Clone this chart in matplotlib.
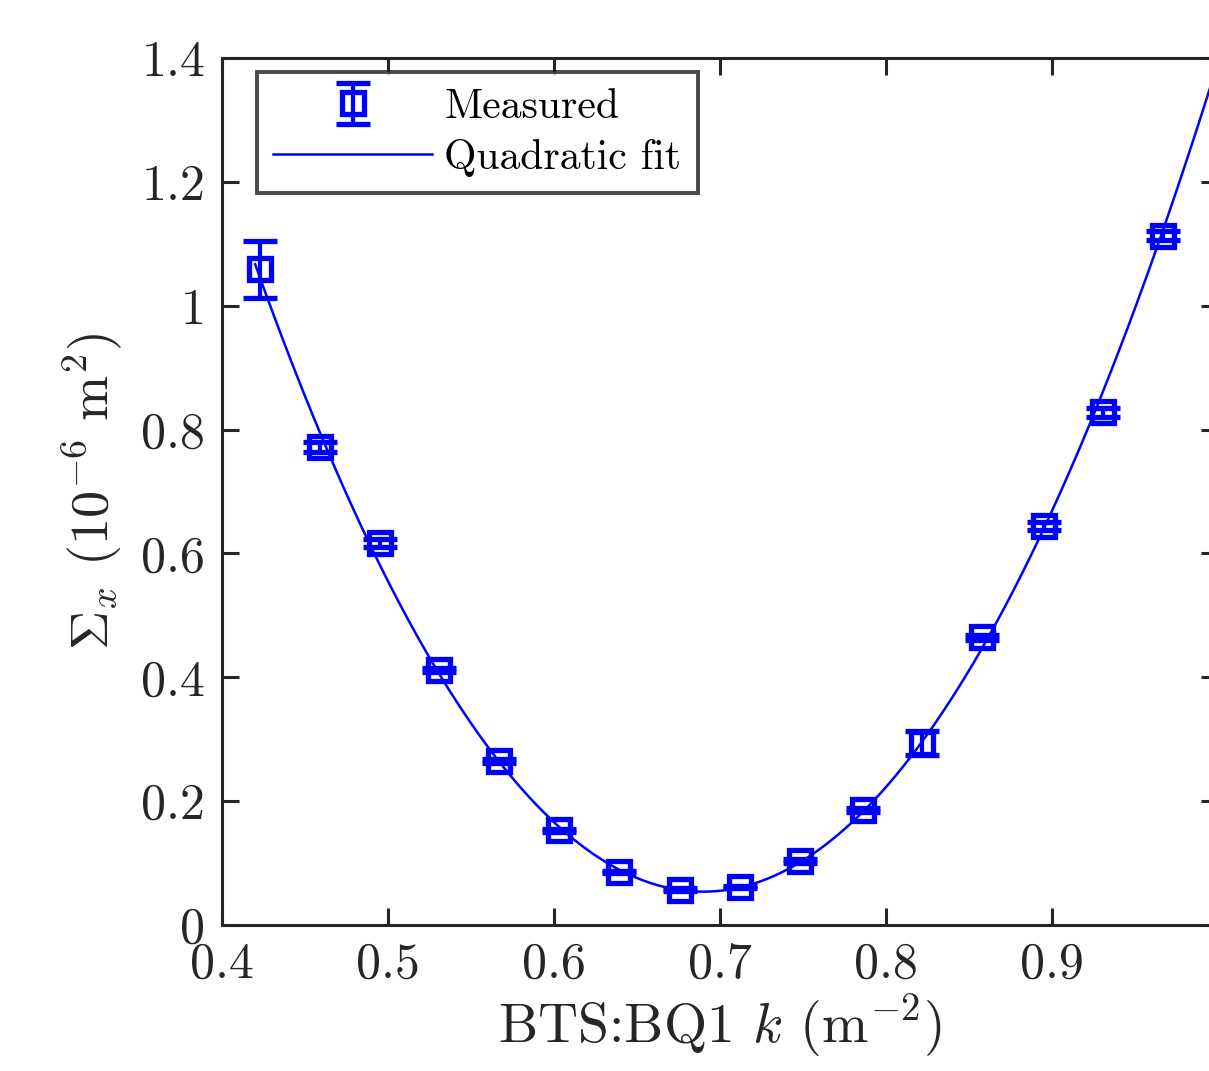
import numpy as np
import matplotlib
matplotlib.use("Agg")
import matplotlib.pyplot as plt
from matplotlib.ticker import FuncFormatter

plt.rcParams['font.family'] = 'cmr10'
plt.rcParams['mathtext.fontset'] = 'cm'
plt.rcParams['axes.formatter.use_mathtext'] = True

# quad strength k (m^-2) and measured Sigma_x (1e-6 m^2)
k_values = [0.423, 0.459, 0.495, 0.531, 0.567, 0.603, 0.639, 0.676,
            0.712, 0.748, 0.786, 0.822, 0.858, 0.895, 0.931, 0.967]
sigma_x = [1.059, 0.772, 0.617, 0.412, 0.265, 0.153, 0.086, 0.057,
           0.061, 0.103, 0.186, 0.294, 0.465, 0.644, 0.828, 1.113]
sigma_err = [0.046, 0.008, 0.007, 0.003, 0.003, 0.002, 0.002, 0.002,
             0.002, 0.003, 0.003, 0.019, 0.004, 0.006, 0.007, 0.007]

k = np.array(k_values)
s = np.array(sigma_x)
e = np.array(sigma_err)

coef = np.polyfit(k, s, 2, w=1 / e)
k_fit = np.linspace(0.42, 1.0, 300)
s_fit = np.polyval(coef, k_fit)

fig = plt.figure(figsize=(12.09, 10.71), dpi=100)
ax = fig.add_axes([0.1836, 0.1363, 0.8238, 0.8095])

h_meas = ax.errorbar(k, s, yerr=e, fmt='s', color='#0000ff', mfc='none',
                     ms=16.5, mew=3.8, elinewidth=3, capsize=12, capthick=3.2,
                     label='Measured', zorder=3)
h_fit, = ax.plot(k_fit, s_fit, color='#0000ff', lw=1.8, label='Quadratic fit')

ax.set_xlim(0.4, 1.0)
ax.set_ylim(0, 1.4)
ax.set_xticks([0.4, 0.5, 0.6, 0.7, 0.8, 0.9])
ax.set_yticks([0, 0.2, 0.4, 0.6, 0.8, 1.0, 1.2, 1.4])
fmt = FuncFormatter(lambda v, p: f"{v:g}")
ax.xaxis.set_major_formatter(fmt)
ax.yaxis.set_major_formatter(fmt)
ax.tick_params(direction='in', length=12, width=2.2, labelsize=36,
               top=True, right=True, pad=12, colors='#262626')
for sp in ax.spines.values():
    sp.set_linewidth(2.2)
    sp.set_color('#262626')

ax.set_xlabel(r'BTS:BQ1 $k$ $(\mathrm{m}^{-2})$', fontsize=40, color='#262626', labelpad=4)
ax.set_ylabel(r'$\Sigma_x$ $(10^{-6}\ \mathrm{m}^{2})$', fontsize=39, color='#262626', labelpad=12)

leg = ax.legend([h_meas, h_fit], ['Measured', 'Quadratic fit'],
                loc='upper left', fontsize=30, handlelength=3.8, frameon=True,
                fancybox=False, edgecolor='#1a1a1a', borderpad=0.4,
                handletextpad=0.3, labelspacing=0.3, borderaxespad=0,
                bbox_to_anchor=(0.035, 0.984))
leg.get_frame().set_linewidth(2.8)

fig.savefig('out.png', dpi=100)
